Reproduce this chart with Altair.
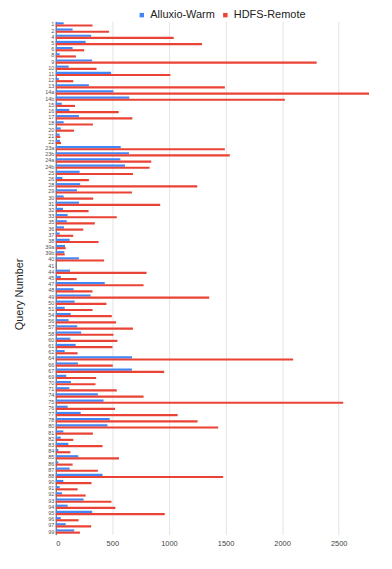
import altair as alt
import pandas as pd

queries = ["1","2","4","5","6","8","9","10","11","12","13","14a","14b","15","16","17","18","20","21","22",
           "23a","23b","24a","24b","25","26","28","29","30","31","32","33","35","36","37","38","39a","39b","40","41",
           "44","45","47","48","49","50","51","54","56","57","58","60","61","62","64","66","67","69","70","71",
           "74","75","76","77","78","80","81","82","83","84","85","86","87","88","90","91","92","93","94","95",
           "96","97","99"]

alluxio_warm = [70,149,313,264,149,35,322,114,489,26,
                293,510,650,53,120,205,70,44,35,38,
                574,647,571,612,211,58,216,187,70,205,
                64,105,97,73,35,123,82,76,205,5,
                126,44,433,158,308,167,79,132,114,190,
                225,129,176,79,673,196,673,93,134,120,
                372,422,105,220,477,457,67,44,111,23,
                199,23,123,413,67,35,55,246,105,322,
                44,88,163]

hdfs_remote = [325,471,1042,1292,251,178,2305,360,1013,155,
               1494,2768,2024,170,556,677,328,161,40,47,
               1494,1538,844,829,682,293,1250,673,331,923,
               290,539,345,243,155,378,88,79,427,5,
               802,185,776,325,1356,448,325,495,533,682,
               510,545,501,193,2097,504,958,357,351,539,
               776,2540,524,1077,1253,1435,328,155,413,129,
               559,149,372,1479,316,193,264,492,527,963,
               202,313,214]

series = ["Alluxio-Warm", "HDFS-Remote"]
colors = ["#4285F4", "#EA4335"]
x_ticks = [0, 500, 1000, 1500, 2000, 2500]

rows = []
for q, a, h in zip(queries, alluxio_warm, hdfs_remote):
    rows.append({"query": q, "series": series[0], "value": a})
    rows.append({"query": q, "series": series[1], "value": h})
df = pd.DataFrame(rows)

FONT = "Liberation Sans"

chart = alt.Chart(df).mark_bar().encode(
    x=alt.X("value:Q",
            scale=alt.Scale(domain=[0, 2900], nice=False),
            axis=alt.Axis(values=x_ticks, format="d", title=None, labelFontSize=7.5, labelColor="#444",
                          labelFont=FONT, ticks=False, domain=False, grid=True,
                          gridColor="#e3e3e3", labelPadding=5)),
    y=alt.Y("query:N", sort=queries,
            scale=alt.Scale(paddingInner=0.3, paddingOuter=0.15),
            axis=alt.Axis(title="Query Number", titleFontSize=11, titleFont=FONT,
                          titleFontWeight="normal", titleColor="#222",
                          titleX=-31, titleY=274, titleAngle=-90,
                          labelFontSize=5.5, labelColor="#555", labelFont=FONT,
                          ticks=False, labelPadding=2, domainColor="#555", grid=False)),
    yOffset=alt.YOffset("series:N", sort=series),
    color=alt.Color("series:N", sort=series,
                    scale=alt.Scale(domain=series, range=colors),
                    legend=alt.Legend(title=None, orient="none", direction="horizontal",
                                      legendX=81, legendY=-12, labelFontSize=11,
                                      labelFont=FONT, labelColor="#222", symbolType="square",
                                      symbolSize=20, symbolStrokeWidth=0, columnPadding=5,
                                      labelOffset=3, padding=0)),
).properties(
    width=330,
    height=516,
    padding={"left": 6, "top": 0, "right": 0, "bottom": 0},
).configure_view(stroke=None)

chart.save("out.html", embed_options={"renderer": "svg", "actions": False})
